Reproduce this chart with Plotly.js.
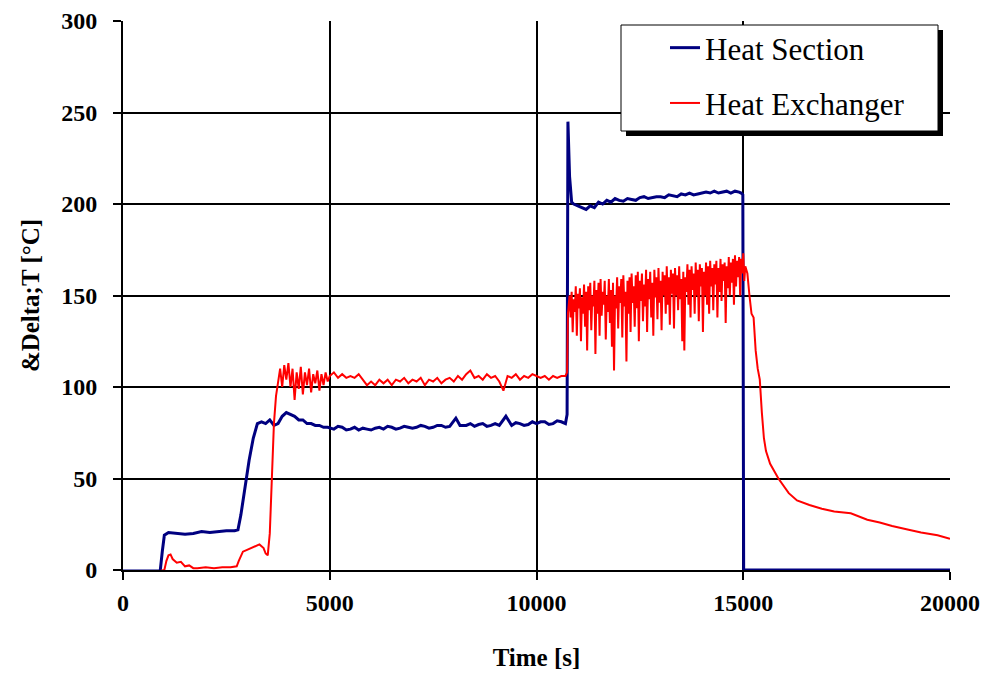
<!DOCTYPE html>
<html>
<head>
<meta charset="utf-8">
<script src="https://cdn.plot.ly/plotly-3.0.1.min.js"></script>
<style>
svg text, svg tspan { font-family: 'Liberation Serif', serif !important; }
</style>
</head>
<body style="margin:0">
<div id="chart"></div>
<script>
// ---- Data ----
const seriesNames = ["Heat Section", "Heat Exchanger"];
const xTickValues = [0, 5000, 10000, 15000, 20000];
const xTickLabels = ["0", "5000", "10000", "15000", "20000"];
const yTickValues = [0, 50, 100, 150, 200, 250, 300];
const yTickLabels = ["0", "50", "100", "150", "200", "250", "300"];

const heatSectionTime = [0, 500, 900, 950, 1000, 1100, 1300, 1500, 1700, 1900, 2100, 2300, 2500, 2700, 2780, 2850, 2950, 3050, 3150, 3250, 3350, 3450, 3550, 3650, 3750, 3850, 3950, 4050, 4150, 4250, 4350, 4450, 4550, 4650, 4750, 4850, 4950, 5100, 5200, 5300,
  5400, 5500, 5600, 5700, 5800, 5900, 6000, 6100, 6200, 6300, 6400, 6500, 6600, 6700, 6800, 6900, 7000, 7100, 7200, 7300, 7400, 7500, 7600, 7700, 7800, 7900,
  8050, 8150, 8300, 8400, 8500, 8600, 8700, 8800, 8900, 9000, 9100, 9260,
  9400, 9500, 9600, 9700, 9800, 9900, 10000, 10100, 10200, 10300, 10400, 10500, 10600, 10700,
  10740, 10760, 10800, 10850, 10900,
  11000, 11100, 11200, 11300, 11400, 11500, 11600, 11700, 11800, 11900, 12000, 12100, 12200, 12300, 12400, 12500, 12600, 12700, 12800, 12900,
  13000, 13100, 13200, 13300, 13400, 13500, 13600, 13700, 13800, 13900, 14000, 14100, 14200, 14300, 14400, 14500, 14600, 14700, 14800, 14900,
  14950, 14990, 15010, 15500, 16000, 17000, 18000, 19000, 20000];
const heatSection = [-0.5, -0.5, -0.5, 10, 19, 20.5, 20, 19.5, 20, 21, 20.5, 21, 21.5, 21.5, 22, 30, 45, 60, 72, 80, 81, 80, 82, 79, 80, 84, 86, 85, 84, 82, 82, 80, 80, 79, 79, 78, 78, 77, 78.5, 78,
  76.5, 77, 78, 76.5, 77.5, 77, 76.5, 77.5, 78, 77, 78.5, 78, 77, 77.5, 78.5, 78, 77.5, 78, 79, 78.5, 77.5, 78, 79, 79, 78, 78.5,
  83, 79, 79, 80, 78.5, 79.5, 80, 78.5, 79, 80, 79, 84,
  79, 80.5, 80, 79, 79.5, 81, 80, 81, 81, 79.5, 80, 81.5, 81, 80,
  85, 245, 215, 201, 200,
  199, 198, 197, 199, 198, 201, 200, 202, 201, 203, 202, 201.5, 203, 202.5, 202, 203.5, 204, 203, 203.5, 204,
  204, 203.5, 205, 204.5, 204, 205.5, 205, 206, 205, 205.5, 206, 206.5, 206, 207, 206, 206.5, 207, 206, 207, 206.5,
  206, 205, 0, 0, 0, 0, 0, 0, 0];

const heatExchangerTime = [0, 300, 600, 900, 1000, 1050, 1100, 1150, 1200, 1300, 1400, 1500, 1600, 1700, 1800, 2000, 2200, 2400, 2600, 2750, 2800, 2900, 3000, 3100, 3200, 3300, 3400, 3450, 3500, 3550, 3600, 3650, 3700, 3750, 3800, 3850, 3900, 3950, 4000, 4050, 4100, 4150, 4200, 4250, 4300, 4350, 4400, 4450, 4500, 4550, 4600, 4650, 4700, 4750, 4800, 4850, 4900, 4950, 5000, 5100, 5200, 5300, 5400, 5500, 5600, 5700, 5800, 5900, 6000, 6100, 6200, 6300, 6400, 6500, 6600, 6700, 6800, 6900, 7000, 7100, 7200, 7300, 7400, 7500, 7600, 7700, 7800, 7900, 8000, 8100, 8200, 8300, 8400, 8500, 8600, 8700, 8800, 8900, 9000, 9100, 9200, 9300, 9400, 9500, 9600, 9700, 9800, 9900, 10000, 10100, 10200, 10300, 10400, 10500, 10600, 10700, 10740, 10760,
  10800, 10825, 10850, 10875, 10900, 10925, 10950, 10975, 11000, 11025, 11050, 11075, 11100, 11125, 11150, 11175, 11200, 11225, 11250, 11275,
  11300, 11325, 11350, 11375, 11400, 11425, 11450, 11475, 11500, 11525, 11550, 11575, 11600, 11625, 11650, 11675, 11700, 11725, 11750, 11775,
  11800, 11825, 11850, 11875, 11900, 11925, 11950, 11975, 12000, 12025, 12050, 12075, 12100, 12125, 12150, 12175, 12200, 12225, 12250, 12275,
  12300, 12325, 12350, 12375, 12400, 12425, 12450, 12475, 12500, 12525, 12550, 12575, 12600, 12625, 12650, 12675, 12700, 12725, 12750, 12775,
  12800, 12825, 12850, 12875, 12900, 12925, 12950, 12975, 13000, 13025, 13050, 13075, 13100, 13125, 13150, 13175, 13200, 13225, 13250, 13275,
  13300, 13325, 13350, 13375, 13400, 13425, 13450, 13475, 13500, 13525, 13550, 13575, 13600, 13625, 13650, 13675, 13700, 13725, 13750, 13775,
  13800, 13825, 13850, 13875, 13900, 13925, 13950, 13975, 14000, 14025, 14050, 14075, 14100, 14125, 14150, 14175, 14200, 14225, 14250, 14275,
  14300, 14325, 14350, 14375, 14400, 14425, 14450, 14475, 14500, 14525, 14550, 14575, 14600, 14625, 14650, 14675, 14700, 14725, 14750, 14775,
  14800, 14825, 14850, 14875, 14900, 14925, 14950, 14975, 15000, 15025, 15050, 15075,
  15100, 15150, 15200, 15250, 15300, 15350, 15400, 15450, 15500, 15550, 15650, 15850, 16100, 16300, 16600, 16900, 17200, 17600, 18000, 18300, 18600, 19000, 19300, 19700, 20000];
const heatExchanger = [-0.5, -0.5, -0.5, -0.5, 0, 5, 8, 8.5, 6, 4, 4.5, 2, 2.5, 1, 1, 1.5, 1, 1.5, 1.5, 2, 5, 10, 11, 12, 13, 14, 12, 9, 8, 20, 50, 80, 95, 103, 110, 100, 112, 104, 113, 100, 110, 93, 108, 99, 111, 96, 108, 101, 110, 97, 107, 102, 109, 98, 107, 101, 108, 103, 106, 108, 105, 107, 105, 106, 105, 107, 104, 101, 103, 101, 104, 102, 104, 101, 104, 103, 105, 102, 104, 103, 105, 101, 104, 103, 105, 102, 104, 105, 103, 106, 104, 107, 109, 105, 106, 104, 107, 105, 106, 103, 98, 106, 105, 107, 104, 106, 105, 107, 106, 105, 106, 104, 106, 105, 106, 106, 108, 140,
  150, 138, 152, 130, 148, 141, 155, 128, 151, 143, 154, 125, 149, 140, 156, 133, 152, 120, 155, 142,
  157, 131, 150, 144, 158, 118, 153, 140, 157, 128, 159, 139, 152, 145, 158, 126, 150, 141, 159, 135,
  153, 122, 157, 109, 150, 143, 160, 132, 155, 146, 159, 127, 161, 144, 152, 114, 158, 140, 160, 130,
  162, 146, 155, 133, 161, 143, 163, 125, 158, 147, 162, 136, 156, 144, 164, 130, 159, 148, 163, 138,
  157, 128, 164, 149, 160, 137, 165, 146, 158, 131, 163, 150, 161, 140, 166, 145, 160, 134, 164, 151,
  162, 132, 165, 150, 161, 142, 166, 148, 159, 125, 163, 120, 160, 152, 167, 145, 164, 138, 166, 153,
  162, 140, 168, 150, 164, 136, 167, 155, 165, 130, 163, 150, 168, 145, 166, 140, 169, 155, 165, 142,
  167, 156, 169, 138, 165, 152, 170, 147, 167, 158, 168, 135, 166, 154, 171, 150, 168, 157, 170, 145,
  172, 155, 169, 160, 171, 150, 170, 162, 173, 158, 166, 163,
  162, 150, 140, 138, 120, 110, 104, 86, 72, 65, 58, 50, 42, 38, 35.5, 33.5, 32, 31, 27.5, 26, 24, 22, 20.5, 19, 17];

// ---- Chart ----
(function () {
  var fam = 'Liberation Serif';
  var pl = 123, pr = 950, pt = 21, pb = 570;
  function fx(v) { return (v - pl) / (pr - pl); }
  function fy(v) { return (pb - v) / (pb - pt); }

  var data = [
    {x: heatSectionTime, y: heatSection, name: seriesNames[0], type: 'scatter', mode: 'lines',
     line: {color: '#000080', width: 3}, legendgroup: 'a'},
    {x: heatExchangerTime, y: heatExchanger, name: seriesNames[1], type: 'scatter', mode: 'lines',
     line: {color: '#ff0000', width: 2}, legendgroup: 'b'}
  ];

  var lay = {
    width: 983, height: 673,
    margin: {l: pl, r: 983 - pr, t: pt, b: 673 - pb},
    paper_bgcolor: '#ffffff', plot_bgcolor: '#ffffff',
    font: {family: fam, color: '#000'},
    showlegend: true,
    legend: {
      x: fx(665), y: fy(21), xanchor: 'left', yanchor: 'top',
      bgcolor: 'rgba(0,0,0,0)', borderwidth: 0,
      font: {family: fam, size: 31, color: '#000'},
      traceorder: 'grouped', tracegroupgap: 12
    },
    xaxis: {
      range: [0, 20000], tickvals: xTickValues, ticktext: xTickLabels,
      showgrid: true, gridcolor: '#000', gridwidth: 2,
      showline: true, linecolor: '#000', linewidth: 2,
      ticks: 'outside', ticklen: 8, tickwidth: 2, tickcolor: '#000',
      ticklabelstandoff: 2,
      zeroline: false, layer: 'below traces',
      tickfont: {family: fam, size: 24, color: '#000', weight: 'bold'},
      title: {text: '<b>Time [s]</b>', font: {family: fam, size: 25, color: '#000'}, standoff: 34}
    },
    yaxis: {
      range: [0, 300], tickvals: yTickValues, ticktext: yTickLabels,
      showgrid: true, gridcolor: '#000', gridwidth: 2,
      showline: true, linecolor: '#000', linewidth: 2,
      ticks: 'outside', ticklen: 8, tickwidth: 2, tickcolor: '#000',
      ticklabelstandoff: 11,
      zeroline: false, layer: 'below traces',
      tickfont: {family: fam, size: 24, color: '#000', weight: 'bold'},
      title: {text: '<b>&Delta;T [&deg;C]</b>', font: {family: fam, size: 25, color: '#000'}, standoff: 14}
    },
    shapes: [
      {type: 'rect', xref: 'paper', yref: 'paper', layer: 'above',
       x0: fx(626), x1: fx(943), y0: fy(136), y1: fy(30),
       fillcolor: '#000', line: {width: 0}},
      {type: 'rect', xref: 'paper', yref: 'paper', layer: 'above',
       x0: fx(621), x1: fx(938), y0: fy(131), y1: fy(25),
       fillcolor: '#fff', line: {color: '#000', width: 1}}
    ]
  };

  Plotly.newPlot('chart', data, lay, {displayModeBar: false});
})();
</script>
</body>
</html>
